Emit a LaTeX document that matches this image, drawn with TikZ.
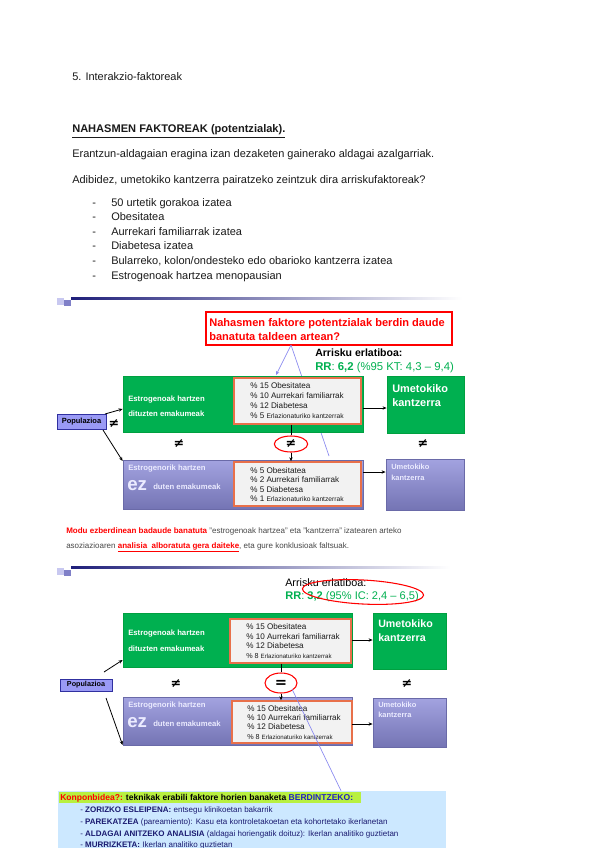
\documentclass[tikz,border=0pt]{standalone}
\usepackage{fontspec}
\setmainfont{Liberation Sans}
\newfontfamily\symfont{DejaVu Sans}
\usetikzlibrary{fit,shapes.geometric,arrows.meta}
\definecolor{grn}{HTML}{00B050}
\definecolor{grnline}{HTML}{00A040}
\definecolor{rrgreen}{HTML}{00B050}
\definecolor{purtop}{HTML}{A3A3E0}
\definecolor{purbot}{HTML}{7474B4}
\definecolor{purline}{HTML}{6A6AA8}
\definecolor{innerfill}{HTML}{F2F2F2}
\definecolor{innerline}{HTML}{E8704A}
\definecolor{popfill}{HTML}{9A9AF5}
\definecolor{popline}{HTML}{3030A0}
\definecolor{navybar}{HTML}{1F1F7A}
\definecolor{sq1}{HTML}{C8C8F0}
\definecolor{sq2}{HTML}{8080C8}
\definecolor{bluel}{HTML}{8A8AF0}
\definecolor{lightbox}{HTML}{CCE8FF}
\definecolor{hilite}{HTML}{B8F040}
\definecolor{navytxt}{HTML}{1A1A70}
\definecolor{bluetxt}{HTML}{2020C0}
\definecolor{bodytxt}{HTML}{1A1A1A}
\newcommand{\fs}[1]{\fontsize{#1}{#1}\selectfont}
\begin{document}
\begin{tikzpicture}[x=0.75pt,y=-0.75pt,
  txt/.style={anchor=base west,inner sep=0pt,text=bodytxt},
  body/.style={txt,font=\fs{8.25}},
  gbox/.style={fill=grn,draw=grnline,line width=0.6pt,inner sep=0pt},
  pbox/.style={top color=purtop,bottom color=purbot,draw=purline,line width=0.6pt,inner sep=0pt},
  ibox/.style={fill=innerfill,draw=innerline,line width=1.1pt,inner sep=0pt},
  popbox/.style={fill=popfill,draw=popline,line width=0.6pt,inner sep=0pt},
  wtxt/.style={txt,text=white,font=\fs{5.8}\bfseries},
  itxt/.style={txt,text=bodytxt,font=\fs{6.1}},
  ne/.style={inner sep=0pt,font=\symfont\bfseries\fs{9.5}},
  conn/.style={line width=0.6pt,-{Stealth[length=3pt,width=2.5pt]}},
  connp/.style={line width=0.6pt},
  bl/.style={draw=bluel,line width=0.5pt},
  redell/.style={ellipse,draw=red,line width=0.8pt,inner sep=0pt}
]
\useasboundingbox[fill=white] (0,0) rectangle (600,848);

% ---------------- top text ----------------
\node[body] (t1) at (72,81) {5. Interakzio-faktoreak};
\node[body,font=\fs{8.3}\bfseries] (t2) at (72,133) {\underline{NAHASMEN FAKTOREAK (potentzialak).}};
\node[body] (t3) at (72,158) {Erantzun-aldagaian eragina izan dezaketen gainerako aldagai azalgarriak.};
\node[body] (t4) at (72,184) {Adibidez, umetokiko kantzerra pairatzeko zeintzuk dira arriskufaktoreak?};
\foreach \y/\t [count=\i] in {207/50 urtetik gorakoa izatea,221/Obesitatea,236/Aurrekari familiarrak izatea,250/Diabetesa izatea,265/{Bularreko, kolon/ondesteko edo obarioko kantzerra izatea},279/Estrogenoak hartzea menopausian}{
  \node[body] (d\i) at (92,\y) {-};
  \node[body] (l\i) at (111,\y) {\t};
}

% ---------------- slide 1 ----------------
\fill[sq1] (57,298) rectangle (64,305);
\fill[sq2] (64,300) rectangle (71,306);
\shade[left color=navybar,right color=white] (71,297) rectangle (462,299);

\node[draw=red,line width=0.8pt,fill=white,fit={(206,312)(452,345)},inner sep=0pt] (q1) {};
\node[txt,text=red,font=\fs{8.3}\bfseries] (q1a) at (209,326) {Nahasmen faktore potentzialak berdin daude};
\node[txt,text=red,font=\fs{8.3}\bfseries] (q1b) at (209,340) {banatuta taldeen artean?};

\coordinate (b1) at (291,345);
\coordinate (b1e) at (329,456);
\draw[bl] (b1) -- (b1e);
\draw[bl,-{Stealth[length=3pt,width=2.5pt]}] (b1) -- (276,375);

\node[txt,font=\fs{7.9}\bfseries,text=black] (ar1) at (315,356) {Arrisku erlatiboa:};
\node[txt,font=\fs{8.5},text=rrgreen] (rr1) at (315,370) {\textbf{RR}: \textbf{6,2} (\%95 KT: 4,3 – 9,4)};

\node[gbox,fit={(123,376)(363,432)}] (g1) {};
\node[ibox,fit={(234,378)(361,424)}] (i1) {};
\node[wtxt] (g1a) at (128,401) {Estrogenoak hartzen};
\node[wtxt] (g1b) at (128,416) {dituzten emakumeak};
\node[itxt] (i1a) at (250,388) {\% 15 Obesitatea};
\node[itxt] (i1b) at (250,398) {\% 10 Aurrekari familiarrak};
\node[itxt] (i1c) at (250,408) {\% 12 Diabetesa};
\node[itxt] (i1d) at (250,418) {\% 5 \fs{5}Erlazionaturiko kantzerrak};

\node[gbox,fit={(387,376)(464,433)}] (u1) {};
\node[txt,text=white,font=\fs{8.2}\bfseries] (u1a) at (392,392) {Umetokiko};
\node[txt,text=white,font=\fs{8.2}\bfseries] (u1b) at (392,406) {kantzerra};
\draw[conn] (g1.east |- 0,408) -- (u1.west |- 0,408);

\node[pbox,fit={(123,460)(363,509)}] (p1) {};
\node[ibox,fit={(234,462)(361,506)}] (j1) {};
\node[wtxt,text=white!92!blue] (p1a) at (128,470) {Estrogenorik hartzen};
\node[txt,text=white!92!blue,font=\fs{14}\bfseries] (p1b) at (127,490) {ez};
\node[wtxt,text=white!92!blue] (p1c) at (153,489) {duten emakumeak};
\node[itxt] (j1a) at (250,473) {\% 5 Obesitatea};
\node[itxt] (j1b) at (250,482) {\% 2 Aurrekari familiarrak};
\node[itxt] (j1c) at (250,492) {\% 5 Diabetesa};
\node[itxt] (j1d) at (250,501) {\% 1 \fs{5}Erlazionaturiko kantzerrak};

\node[pbox,fit={(386,459)(464,510)}] (v1) {};
\node[txt,text=white!92!blue,font=\fs{5.6}\bfseries] (v1a) at (391,469) {Umetokiko};
\node[txt,text=white!92!blue,font=\fs{5.6}\bfseries] (v1b) at (391,480) {kantzerra};
\draw[conn] (p1.east |- 0,472) -- (v1.west |- 0,472);

\node[popbox,fit={(57,414)(106,429)}] (pop1) {};
\node[inner sep=0pt,font=\fs{5.6}\bfseries] (pop1t) at (pop1.center) {Populazioa};
\draw[conn] (105,414) -- (g1.west |- 0,409);
\draw[conn] (103,430) -- (p1.west |- 0,461);

\node[ne] (ne1) at (114,424) {≠};
\node[ne] (ne2) at (179,444) {≠};
\node[redell,minimum width=25pt,minimum height=12pt] (el1) at (291,444) {};
\node[ne] (ne3) at (291,444) {≠};
\node[ne] (ne4) at (423,444) {≠};
\draw[connp] (i1.south -| el1) -- (el1.north);
\draw[conn] (el1.south) -- (j1.north -| el1);

% caption
\node[txt,font=\fs{6}, text=bodytxt!80!white] (c1) at (66,533) {\textcolor{red}{\textbf{Modu ezberdinean badaude banatuta}} "estrogenoak hartzea" eta "kantzerra" izatearen arteko};
\node[txt,font=\fs{6},text=bodytxt!80!white] (c2) at (66,548) {asoziazioaren \textcolor{red}{\textbf{\underline{analisia\ \ alboratuta gera daiteke}}}, eta gure konklusioak faltsuak.};

% ---------------- slide 2 ----------------
\fill[sq1] (57,568) rectangle (64,575);
\fill[sq2] (64,570) rectangle (71,576);
\shade[left color=navybar,right color=white] (71,566) rectangle (450,568);

\node[txt,font=\fs{8.1},text=black] (ar2) at (285,586) {Arrisku erlatiboa:};
\node[txt,font=\fs{8.3},text=rrgreen] (rr2) at (285,599) {\textbf{RR}: \textbf{3,2} (95\% IC: 2,4 – 6,5)};
\node[redell,minimum width=91pt,minimum height=18pt,rotate=-3] (el2) at (363,592) {};

\node[gbox,fit={(123,613)(352,667)}] (g2) {};
\node[ibox,fit={(230,619)(351,663)}] (i2) {};
\node[wtxt] (g2a) at (128,635) {Estrogenoak hartzen};
\node[wtxt] (g2b) at (128,651) {dituzten emakumeak};
\node[itxt] (i2a) at (246,629) {\% 15 Obesitatea};
\node[itxt] (i2b) at (246,639) {\% 10 Aurrekari familiarrak};
\node[itxt] (i2c) at (246,648) {\% 12 Diabetesa};
\node[itxt] (i2d) at (246,658) {\fs{5.4}\% 8 \fs{4.6}Erlazionaturiko kantzerrak};

\node[gbox,fit={(373,613)(446,669)}] (u2) {};
\node[txt,text=white,font=\fs{8}\bfseries] (u2a) at (378,627) {Umetokiko};
\node[txt,text=white,font=\fs{8}\bfseries] (u2b) at (378,641) {kantzerra};
\draw[conn] (g2.east |- 0,640) -- (u2.west |- 0,640);

\node[pbox,fit={(123,697)(352,745)}] (p2) {};
\node[ibox,fit={(232,701)(352,743)}] (j2) {};
\node[wtxt,text=white!92!blue] (p2a) at (128,707) {Estrogenorik hartzen};
\node[txt,text=white!92!blue,font=\fs{14}\bfseries] (p2b) at (127,727) {ez};
\node[wtxt,text=white!92!blue] (p2c) at (153,726) {duten emakumeak};
\node[itxt] (j2a) at (247,711) {\% 15 Obesitatea};
\node[itxt] (j2b) at (247,720) {\% 10 Aurrekari familiarrak};
\node[itxt] (j2c) at (247,729) {\% 12 Diabetesa};
\node[itxt] (j2d) at (247,739) {\fs{5.4}\% 8 \fs{4.6}Erlazionaturiko kantzerrak};

\node[pbox,fit={(373,698)(446,747)}] (v2) {};
\node[txt,text=white!92!blue,font=\fs{5.6}\bfseries] (v2a) at (378,707) {Umetokiko};
\node[txt,text=white!92!blue,font=\fs{5.6}\bfseries] (v2b) at (378,717) {kantzerra};
\draw[conn] (p2.east |- 0,724) -- (v2.west |- 0,724);

\node[popbox,fit={(60,679)(112,691)}] (pop2) {};
\node[inner sep=0pt,font=\fs{5.4}\bfseries] (pop2t) at (pop2.center) {Populazioa};
\draw[conn] (104,672) -- (g2.west |- 0,660);
\draw[conn] (106,698) -- (p2.west |- 0,745);

\node[ne] (ne5) at (176,684) {≠};
\node[redell,minimum width=24pt,minimum height=15pt] (el3) at (281,683) {};
\node[inner sep=0pt,font=\symfont\bfseries\fs{11}] (eq1) at (281,684) {=};
\node[ne] (ne6) at (407,684) {≠};
\draw[connp] (i2.south -| el3) -- (el3.north);
\draw[conn] (el3.south) -- (j2.north -| el3);

% bottom box
\node[fill=lightbox,fit={(58,791)(446,848)},inner sep=0pt] (kb) {};
\coordinate (b2) at (292,689);
\draw[bl] (b2) -- (kb.north -| 341,0);
\fill[hilite] (59,792) rectangle (361,803);
\node[txt,font=\fs{6.4}\bfseries,text=black] (k0) at (60,800.5) {\textcolor{red}{Konponbidea?:} teknikak erabili faktore horien banaketa \textcolor{bluetxt}{BERDINTZEKO:}};
\node[txt,font=\fs{6},text=navytxt] (k1) at (80,812) {- \textbf{ZORIZKO ESLEIPENA:} entsegu klinikoetan bakarrik};
\node[txt,font=\fs{6},text=navytxt] (k2) at (80,824) {- \textbf{PAREKATZEA} (pareamiento): Kasu eta kontroletakoetan eta kohortetako ikerlanetan};
\node[txt,font=\fs{6},text=navytxt] (k3) at (80,836) {- \textbf{ALDAGAI ANITZEKO ANALISIA} (aldagai horiengatik doituz): Ikerlan analitiko guztietan};
\node[txt,font=\fs{6},text=navytxt] (k4) at (80,847) {- \textbf{MURRIZKETA:} Ikerlan analitiko guztietan};
\end{tikzpicture}
\end{document}
